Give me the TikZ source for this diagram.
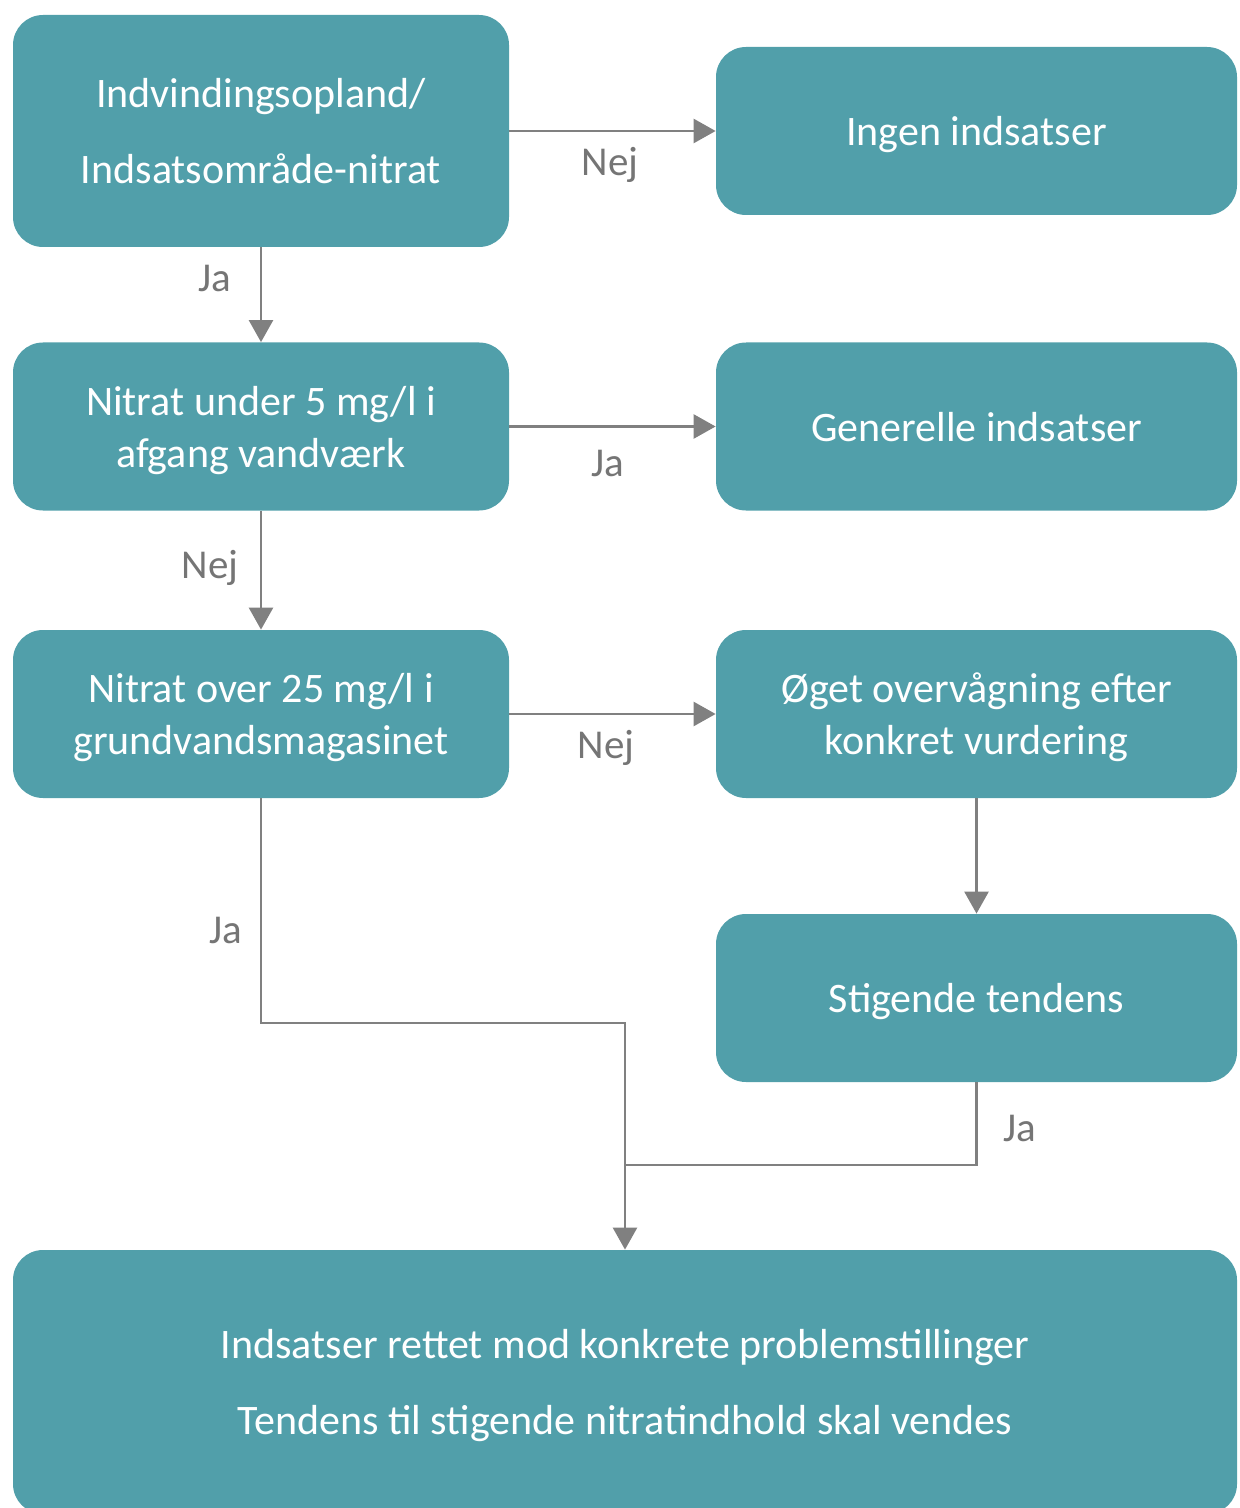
\documentclass[tikz,border=0pt]{standalone}
\usepackage{fontspec}
\setmainfont{Carlito}
\usetikzlibrary{arrows.meta}

\definecolor{boxteal}{HTML}{519FAA}
\definecolor{linegray}{HTML}{808080}
\definecolor{lblgray}{HTML}{757575}

\tikzset{
    box/.style={fill=boxteal, rounded corners=15pt, text=white, align=center,
        font=\fontsize{21}{26}\selectfont, inner sep=0pt, text depth=0pt},
    leftbox/.style={box, minimum width=248pt, minimum height=84pt},
    rightbox/.style={box, minimum width=260.5pt, minimum height=84pt},
    lbl/.style={text=lblgray, font=\fontsize{20.5}{25}\selectfont},
    arr/.style={draw=linegray, line width=1.3pt, -{Triangle[length=11pt,width=12pt]}},
    link/.style={draw=linegray, line width=1.3pt}
}

\begin{document}
\begin{tikzpicture}[x=0.5pt,y=-0.5pt]
    \useasboundingbox (0,0) rectangle (1239,1508);

    % left column
    \node [leftbox, minimum height=116pt](opland) at (261,131)
        {Indvindingsopland/\\[12pt]Indsatsområde-nitrat};
    \node [leftbox](under5) at (261,426.5) {Nitrat under 5 mg/l i\\afgang vandværk};
    \node [leftbox](over25) at (261,714) {Nitrat over 25 mg/l i\\grundvandsmagasinet};

    % right column
    \node [rightbox](ingen) at (976.5,131) {Ingen indsatser};
    \node [rightbox](generelle) at (976.5,426.5) {Generelle indsatser};
    \node [rightbox](oget) at (976.5,714) {Øget overvågning efter\\konkret vurdering};
    \node [rightbox](stigende) at (976.5,998) {Stigende tendens};

    % bottom
    \node [box, minimum width=612pt, minimum height=132pt](indsatser) at (625,1382)
        {Indsatser rettet mod konkrete problemstillinger\\[12pt]Tendens til stigende nitratindhold skal vendes};

    \coordinate (bend) at (625,1023);
    \coordinate (join) at (625,1165);

    \draw [arr] (opland) -- (ingen);
    \node [lbl] at (610,165) {Nej};
    \draw [arr] (opland) -- (under5);
    \node [lbl] at (215,278) {Ja};

    \draw [arr] (under5) -- (generelle);
    \node [lbl] at (608,463) {Ja};
    \draw [arr] (under5) -- (over25);
    \node [lbl] at (210,568) {Nej};

    \draw [arr] (over25) -- (oget);
    \node [lbl] at (606,748) {Nej};
    \draw [arr] (oget) -- (stigende);

    \draw [arr] (over25.south) |- (bend) -- (indsatser.north -| bend);
    \node [lbl] at (226,930) {Ja};
    \draw [link] (stigende.south) |- (join);
    \node [lbl] at (1020,1128) {Ja};

\end{tikzpicture}
\end{document}
